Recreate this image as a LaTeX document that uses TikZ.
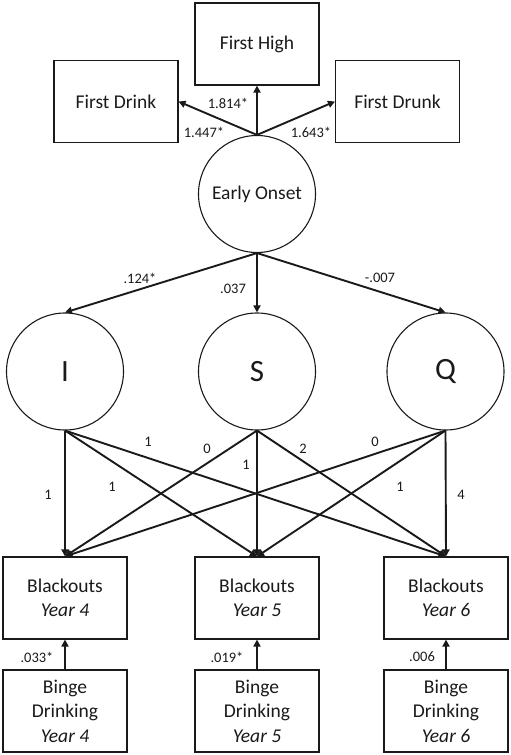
\documentclass[tikz,border=0pt]{standalone}
\usepackage{fontspec}
\setmainfont{Carlito}
\usepackage{xcolor}
\definecolor{ink}{HTML}{1A1A1A}
\usepackage{tikz}
\usetikzlibrary{arrows.meta, positioning, shapes}

\begin{document}
\begin{tikzpicture}[x=1pt, y=-1pt,
    box/.style={draw=ink, line width=1.1pt, minimum width=124pt, minimum height=82pt, align=center, inner sep=0pt, font=\fontsize{19.5}{24.5}\selectfont, text=ink},
    latent/.style={circle, draw=ink, line width=1.1pt, minimum size=117pt, inner sep=0pt, text=ink},
    effect/.style={draw=ink, line width=1.9pt, -{Triangle[length=7pt, width=7pt]}},
    coef/.style={font=\fontsize{14.5}{17}\selectfont, text=ink, inner sep=0pt}]
  \useasboundingbox (0,0) rectangle (511,755);

  % Onset indicators
  \node[box] (high) at (257,44) {First High};
  \node[box] (drink) at (116,101.5) {First Drink};
  \node[box] (drunk) at (397.5,101.5) {First Drunk};

  % Latent factors
  \node[latent, font=\fontsize{19.5}{24.5}\selectfont] (onset) at (257,194) {Early Onset};
  \node[latent, font=\fontsize{31}{31}\selectfont] (I) at (65,371.5) {I};
  \node[latent, font=\fontsize{31}{31}\selectfont] (S) at (257,371.5) {S};
  \node[latent, font=\fontsize{31}{31}\selectfont] (Q) at (445.5,371.5) {Q};

  % Observed outcomes and covariates
  \node[box] (bl4) at (65,598) {Blackouts\\\textit{Year 4}};
  \node[box] (bl5) at (257,598) {Blackouts\\\textit{Year 5}};
  \node[box] (bl6) at (446,598) {Blackouts\\\textit{Year 6}};
  \node[box] (bd4) at (65,711) {Binge\\Drinking\\\textit{Year 4}};
  \node[box] (bd5) at (257,711) {Binge\\Drinking\\\textit{Year 5}};
  \node[box] (bd6) at (446,711) {Binge\\Drinking\\\textit{Year 6}};

  % Measurement paths
  \draw[effect] (onset.north) -- (drink.east);
  \draw[effect] (onset.north) -- (high.south);
  \draw[effect] (onset.north) -- (drunk.west);
  \node[coef] (l-high) at (228,103) {1.814*};
  \node[coef] (l-drink) at (204,132) {1.447*};
  \node[coef] (l-drunk) at (311,132) {1.643*};

  % Structural paths
  \draw[effect] (onset.south) -- (I.north);
  \draw[effect] (onset.south) -- (S.north);
  \draw[effect] (onset.south) -- (Q.north);
  \node[coef] (l-I) at (140,278) {.124*};
  \node[coef] (l-S) at (233,289) {.037};
  \node[coef] (l-Q) at (380,278) {-.007};

  % Growth loadings
  \foreach \f in {I,S,Q}
    \foreach \y in {4,5,6}
      \draw[effect] (\f.south) -- (bl\y.north);
  \node[coef] (l-I4) at (48,495) {1};
  \node[coef] (l-I5) at (112,487) {1};
  \node[coef] (l-I6) at (148,442) {1};
  \node[coef] (l-S4) at (207,449) {0};
  \node[coef] (l-S5) at (246,465) {1};
  \node[coef] (l-S6) at (303,449) {2};
  \node[coef] (l-Q4) at (375,442) {0};
  \node[coef] (l-Q5) at (400,487) {1};
  \node[coef] (l-Q6) at (461,495) {4};

  % Time-varying covariates
  \foreach \y in {4,5,6}
    \draw[effect] (bd\y.north) -- (bl\y.south);
  \node[coef] (l-bd4) at (37,657) {.033*};
  \node[coef] (l-bd5) at (227,657) {.019*};
  \node[coef] (l-bd6) at (422,657) {.006};
\end{tikzpicture}
\end{document}
